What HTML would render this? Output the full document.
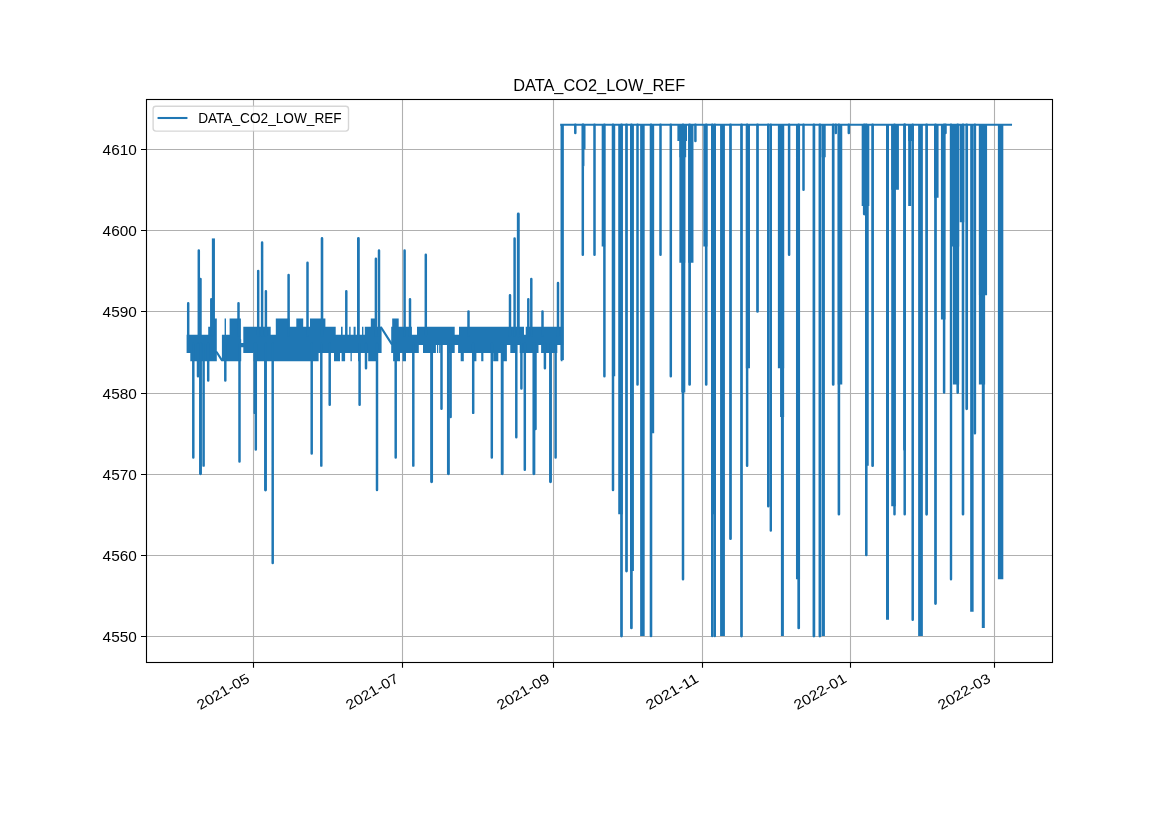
<!DOCTYPE html>
<html><head><meta charset="utf-8"><title>DATA_CO2_LOW_REF</title>
<style>html,body{margin:0;padding:0;background:#fff;}svg{display:block;will-change:transform;}text{font-family:"Liberation Sans",sans-serif;}</style></head>
<body>
<svg width="1169" height="827" viewBox="0 0 1169 827">
<rect width="1169" height="827" fill="#fff"/>
<path d="M253.50 99.5V662.5M402.50 99.5V662.5M553.50 99.5V662.5M702.50 99.5V662.5M850.50 99.5V662.5M994.50 99.5V662.5M146.5 636.50H1052.5M146.5 555.50H1052.5M146.5 474.50H1052.5M146.5 393.50H1052.5M146.5 311.50H1052.5M146.5 230.50H1052.5M146.5 149.50H1052.5" stroke="#b0b0b0" stroke-width="1.11" fill="none"/>
<path d="M186.60 334.75h21.60v5.60h-21.60zM208.20 326.63h2.60v13.71h-2.60zM210.80 318.52h6.00v21.83h-6.00zM221.90 334.75h7.70v5.60h-7.70zM224.60 318.52h1.40v21.83h-1.40zM229.60 318.52h11.30v21.83h-11.30zM243.30 326.63h27.40v13.71h-27.40zM270.70 334.75h5.10v5.60h-5.10zM275.80 318.52h13.70v21.83h-13.70zM289.50 326.63h6.80v13.71h-6.80zM296.30 318.52h6.90v21.83h-6.90zM303.20 326.63h6.80v13.71h-6.80zM310.00 318.52h15.40v21.83h-15.40zM325.40 326.63h10.30v13.71h-10.30zM335.70 334.75h29.10v5.60h-29.10zM341.00 326.63h1.60v13.71h-1.60zM349.20 326.63h1.40v13.71h-1.40zM353.60 326.63h2.00v13.71h-2.00zM362.00 326.63h1.40v13.71h-1.40zM364.80 326.63h6.00v13.71h-6.00zM370.80 318.52h4.30v21.83h-4.30zM375.10 326.63h6.50v13.71h-6.50zM391.20 326.63h1.00v13.71h-1.00zM392.20 318.52h6.50v21.83h-6.50zM398.70 326.63h13.20v13.71h-13.20zM411.90 334.75h5.10v5.60h-5.10zM417.00 326.63h37.70v13.71h-37.70zM454.70 334.75h4.30v5.60h-4.30zM459.00 326.63h65.00v13.71h-65.00zM524.00 334.75h1.70v5.60h-1.70zM525.70 326.63h37.50v13.71h-37.50zM186.60 339.35h3.70v13.71h-3.70zM190.30 339.35h26.50v21.83h-26.50zM221.90 339.35h19.30v21.83h-19.30zM243.30 339.35h10.30v13.71h-10.30zM253.60 339.35h65.00v21.83h-65.00zM318.60 339.35h15.40v13.71h-15.40zM334.00 339.35h6.00v21.83h-6.00zM341.60 339.35h3.50v21.83h-3.50zM340.00 339.35h1.60v13.71h-1.60zM345.10 339.35h23.10v13.71h-23.10zM350.50 339.35h1.30v21.83h-1.30zM358.10 339.35h1.40v21.83h-1.40zM368.20 339.35h9.50v21.83h-9.50zM377.70 339.35h3.90v13.71h-3.90zM391.20 339.35h1.90v13.71h-1.90zM393.10 339.35h6.90v21.83h-6.90zM400.00 339.35h18.80v13.71h-18.80zM402.50 339.35h3.50v21.83h-3.50zM418.80 339.35h4.20v5.60h-4.20zM423.00 339.35h12.90v13.71h-12.90zM435.90 339.35h11.10v5.60h-11.10zM437.00 339.35h1.20v13.71h-1.20zM439.20 339.35h1.20v13.71h-1.20zM447.00 339.35h7.70v13.71h-7.70zM454.70 339.35h3.40v5.60h-3.40zM458.10 339.35h48.80v13.71h-48.80zM460.70 339.35h3.10v21.83h-3.10zM472.30 339.35h4.10v21.83h-4.10zM481.20 339.35h2.20v21.83h-2.20zM493.20 339.35h5.10v21.83h-5.10zM501.70 339.35h5.20v21.83h-5.20zM506.90 339.35h3.40v5.60h-3.40zM510.30 339.35h6.80v13.71h-6.80zM517.10 339.35h2.60v5.60h-2.60zM519.70 339.35h18.80v13.71h-18.80zM538.50 339.35h2.60v5.60h-2.60zM541.10 339.35h16.20v13.71h-16.20zM557.30 339.35h5.90v5.60h-5.90zM560.80 339.35h1.70v21.83h-1.70zM240.40 343.00h3.40v4.30h-3.40z" fill="#1f77b4" fill-rule="nonzero" stroke="none"/>
<path d="M216.60 352.02L221.80 360.13M381.20 327.67L391.60 343.90" stroke="#1f77b4" stroke-width="2.08" stroke-linecap="round" fill="none"/>
<path d="M712.20 124.80L712.20 636.04M714.80 124.80L714.80 636.04M768.20 124.80L768.20 506.20M770.80 124.80L770.80 530.54M951.00 124.80L951.00 579.23" stroke="#1f77b4" stroke-width="2.4" stroke-linecap="round" fill="none"/>
<path d="M188.20 335.79L188.20 303.33M198.80 335.79L198.80 250.58M200.50 335.79L200.50 278.98M211.30 335.79L211.30 299.27M238.50 335.79L238.50 303.33M258.20 335.79L258.20 270.87M262.10 335.79L262.10 242.47M265.90 335.79L265.90 291.16M288.60 335.79L288.60 274.93M307.50 335.79L307.50 262.75M346.30 335.79L346.30 291.16M375.90 335.79L375.90 258.70M379.00 335.79L379.00 250.58M404.60 335.79L404.60 250.58M410.00 335.79L410.00 299.27M425.80 335.79L425.80 254.64M468.50 335.79L468.50 311.44M510.00 335.79L510.00 295.21M514.60 335.79L514.60 238.41M528.30 335.79L528.30 299.27M531.30 335.79L531.30 278.98M542.50 335.79L542.50 311.44M558.00 335.79L558.00 283.04M193.30 343.90L193.30 457.51M198.00 343.90L198.00 376.36M203.60 343.90L203.60 465.63M208.20 343.90L208.20 380.42M225.30 343.90L225.30 380.42M239.50 343.90L239.50 461.57M255.80 343.90L255.80 449.40M254.70 343.90L254.70 412.88M272.70 343.90L272.70 563.00M311.70 343.90L311.70 453.45M321.30 343.90L321.30 465.63M329.70 343.90L329.70 404.76M359.60 343.90L359.60 404.76M366.00 343.90L366.00 368.25M377.00 343.90L377.00 489.97M395.70 343.90L395.70 457.51M413.30 343.90L413.30 465.63M441.50 343.90L441.50 408.82M450.60 343.90L450.60 416.94M473.20 343.90L473.20 412.88M491.80 343.90L491.80 457.51M516.30 343.90L516.30 437.22M521.40 343.90L521.40 388.53M524.80 343.90L524.80 469.68M535.50 343.90L535.50 429.11M544.90 343.90L544.90 368.25M555.60 343.90L555.60 457.51" stroke="#1f77b4" stroke-width="2.48" stroke-linecap="round" fill="none"/>
<path d="M575.30 124.80L575.30 132.92M583.20 124.80L583.20 165.38M582.80 124.80L582.80 254.64M594.50 124.80L594.50 254.64M604.40 124.80L604.40 376.36M613.00 124.80L613.00 489.97M637.50 124.80L637.50 384.48M660.50 124.80L660.50 254.64M670.80 124.80L670.80 376.36M683.00 124.80L683.00 579.23M695.40 124.80L695.40 141.03M747.10 124.80L747.10 465.63M789.10 124.80L789.10 254.64M803.50 124.80L803.50 189.72M835.80 124.80L835.80 132.92M848.80 124.80L848.80 132.92M894.50 124.80L894.50 514.32M904.70 124.80L904.70 514.32M912.70 124.80L912.70 619.81M945.50 124.80L945.50 132.92M944.10 124.80L944.10 392.59M974.90 124.80L974.90 433.17" stroke="#1f77b4" stroke-width="2.5" stroke-linecap="round" fill="none"/>
<path d="M322.00 335.79L322.00 238.41M651.00 124.80L651.00 636.04M706.20 124.80L706.20 384.48M838.90 124.80L838.90 514.32M866.30 124.80L866.30 554.89M957.70 124.80L957.70 392.59M963.00 124.80L963.00 514.32" stroke="#1f77b4" stroke-width="2.6" stroke-linecap="round" fill="none"/>
<path d="M621.50 124.80L621.50 636.04M626.50 124.80L626.50 571.12M631.40 124.80L631.40 627.92M689.60 124.80L689.60 384.48M730.50 124.80L730.50 538.66M741.50 124.80L741.50 636.04M757.50 124.80L757.50 311.44M798.70 124.80L798.70 627.92M813.90 124.80L813.90 636.04M819.90 124.80L819.90 636.04M833.20 124.80L833.20 384.48M872.60 124.80L872.60 465.63M926.60 124.80L926.60 514.32M935.50 124.80L935.50 603.58M966.70 124.80L966.70 408.82" stroke="#1f77b4" stroke-width="2.7" stroke-linecap="round" fill="none"/>
<path d="M358.40 335.79L358.40 238.41M864.30 124.80L864.30 214.07M904.60 124.80L904.60 449.40" stroke="#1f77b4" stroke-width="2.8" stroke-linecap="round" fill="none"/>
<path d="M518.30 335.79L518.30 214.07M200.50 343.90L200.50 473.74M265.50 343.90L265.50 489.97M431.60 343.90L431.60 481.86M448.40 343.90L448.40 473.74M502.20 343.90L502.20 473.74M533.90 343.90L533.90 473.74M550.50 343.90L550.50 481.86" stroke="#1f77b4" stroke-width="2.9" stroke-linecap="round" fill="none"/>
<path d="M782.40 124.80L782.40 636.04M887.50 124.80L887.50 619.81M909.70 124.80L909.70 205.95M983.30 124.80L983.30 627.92" stroke="#1f77b4" stroke-width="3.0" stroke-linecap="butt" fill="none"/>
<path d="M213.40 335.79L213.40 238.41" stroke="#1f77b4" stroke-width="3.1" stroke-linecap="butt" fill="none"/>
<path d="M613.60 124.80L613.60 376.36M823.30 124.80L823.30 636.04" stroke="#1f77b4" stroke-width="3.25" stroke-linecap="butt" fill="none"/>
<path d="M562.20 124.80L562.20 360.13" stroke="#1f77b4" stroke-width="3.35" stroke-linecap="butt" fill="none"/>
<path d="M603.40 124.80L603.40 246.52M971.90 124.80L971.90 611.69" stroke="#1f77b4" stroke-width="3.45" stroke-linecap="butt" fill="none"/>
<path d="M583.70 124.80L583.70 149.15M632.10 124.80L632.10 571.12M866.90 124.80L866.90 465.63" stroke="#1f77b4" stroke-width="3.65" stroke-linecap="butt" fill="none"/>
<path d="M683.30 124.80L683.30 392.59M782.10 124.80L782.10 416.94M798.00 124.80L798.00 579.23M823.70 124.80L823.70 157.26" stroke="#1f77b4" stroke-width="4.05" stroke-linecap="butt" fill="none"/>
<path d="M652.10 124.80L652.10 433.17M705.40 124.80L705.40 246.52M747.90 124.80L747.90 368.25" stroke="#1f77b4" stroke-width="4.15" stroke-linecap="butt" fill="none"/>
<path d="M620.50 124.80L620.50 514.32M642.40 124.80L642.40 636.04M840.00 124.80L840.00 384.48M893.50 124.80L893.50 506.20M936.30 124.80L936.30 197.84M943.20 124.80L943.20 319.56M962.00 124.80L962.00 222.18" stroke="#1f77b4" stroke-width="4.55" stroke-linecap="butt" fill="none"/>
<path d="M713.40 124.80L713.40 514.32" stroke="#1f77b4" stroke-width="4.65" stroke-linecap="butt" fill="none"/>
<path d="M920.50 124.80L920.50 636.04" stroke="#1f77b4" stroke-width="4.75" stroke-linecap="butt" fill="none"/>
<path d="M722.50 124.80L722.50 636.04" stroke="#1f77b4" stroke-width="4.85" stroke-linecap="butt" fill="none"/>
<path d="M690.80 124.80L690.80 262.75" stroke="#1f77b4" stroke-width="5.35" stroke-linecap="butt" fill="none"/>
<path d="M1000.60 124.80L1000.60 579.23" stroke="#1f77b4" stroke-width="5.45" stroke-linecap="butt" fill="none"/>
<path d="M911.00 124.80L911.00 141.03" stroke="#1f77b4" stroke-width="5.65" stroke-linecap="butt" fill="none"/>
<path d="M682.30 124.80L682.30 262.75" stroke="#1f77b4" stroke-width="5.85" stroke-linecap="butt" fill="none"/>
<path d="M781.00 124.80L781.00 368.25M956.00 124.80L956.00 384.48M982.00 124.80L982.00 384.48" stroke="#1f77b4" stroke-width="6.25" stroke-linecap="butt" fill="none"/>
<path d="M682.80 124.80L682.80 157.26" stroke="#1f77b4" stroke-width="6.75" stroke-linecap="butt" fill="none"/>
<path d="M865.50 124.80L865.50 205.95M895.10 124.80L895.10 189.72" stroke="#1f77b4" stroke-width="7.65" stroke-linecap="butt" fill="none"/>
<path d="M983.00 124.80L983.00 295.21" stroke="#1f77b4" stroke-width="8.15" stroke-linecap="butt" fill="none"/>
<path d="M954.60 124.80L954.60 246.52" stroke="#1f77b4" stroke-width="9.15" stroke-linecap="butt" fill="none"/>
<path d="M682.20 124.80L682.20 141.03" stroke="#1f77b4" stroke-width="9.65" stroke-linecap="butt" fill="none"/>
<path d="M561.2 124.80H1011.0" stroke="#1f77b4" stroke-width="2.08" stroke-linecap="square" fill="none"/>
<path d="M253.50 662.5V667.7M402.50 662.5V667.7M553.50 662.5V667.7M702.50 662.5V667.7M850.50 662.5V667.7M994.50 662.5V667.7M146.5 636.50H141.0M146.5 555.50H141.0M146.5 474.50H141.0M146.5 393.50H141.0M146.5 311.50H141.0M146.5 230.50H141.0M146.5 149.50H141.0" stroke="#000" stroke-width="1.11" fill="none"/>
<rect x="146.5" y="99.5" width="906" height="563" fill="none" stroke="#000" stroke-width="1.11"/>
<rect x="153.1" y="106.2" width="195.4" height="24.9" rx="2.8" fill="#fff" fill-opacity="0.8" stroke="#ccc" stroke-opacity="0.8" stroke-width="1.39"/>
<path d="M158.6 118H186.4" stroke="#1f77b4" stroke-width="2.08" stroke-linecap="square"/>
<text x="198.2" y="122.9" font-family="Liberation Sans, sans-serif" font-size="14" textLength="143.5" lengthAdjust="spacingAndGlyphs" fill="#000">DATA_CO2_LOW_REF</text>
<text x="513.2" y="90.8" font-family="Liberation Sans, sans-serif" font-size="16.9" textLength="172" lengthAdjust="spacingAndGlyphs" fill="#000">DATA_CO2_LOW_REF</text>
<text x="102.6" y="641.95" font-family="Liberation Sans, sans-serif" font-size="14" textLength="34.2" lengthAdjust="spacingAndGlyphs" fill="#000">4550</text>
<text x="102.6" y="560.95" font-family="Liberation Sans, sans-serif" font-size="14" textLength="34.2" lengthAdjust="spacingAndGlyphs" fill="#000">4560</text>
<text x="102.6" y="479.95" font-family="Liberation Sans, sans-serif" font-size="14" textLength="34.2" lengthAdjust="spacingAndGlyphs" fill="#000">4570</text>
<text x="102.6" y="398.95" font-family="Liberation Sans, sans-serif" font-size="14" textLength="34.2" lengthAdjust="spacingAndGlyphs" fill="#000">4580</text>
<text x="102.6" y="316.95" font-family="Liberation Sans, sans-serif" font-size="14" textLength="34.2" lengthAdjust="spacingAndGlyphs" fill="#000">4590</text>
<text x="102.6" y="235.95" font-family="Liberation Sans, sans-serif" font-size="14" textLength="34.2" lengthAdjust="spacingAndGlyphs" fill="#000">4600</text>
<text x="102.6" y="154.95" font-family="Liberation Sans, sans-serif" font-size="14" textLength="34.2" lengthAdjust="spacingAndGlyphs" fill="#000">4610</text>
<text transform="translate(250.50 681.30) rotate(-30)" x="-58" y="0" font-family="Liberation Sans, sans-serif" font-size="14" textLength="58" lengthAdjust="spacingAndGlyphs" fill="#000">2021-05</text>
<text transform="translate(399.50 681.30) rotate(-30)" x="-58" y="0" font-family="Liberation Sans, sans-serif" font-size="14" textLength="58" lengthAdjust="spacingAndGlyphs" fill="#000">2021-07</text>
<text transform="translate(550.50 681.30) rotate(-30)" x="-58" y="0" font-family="Liberation Sans, sans-serif" font-size="14" textLength="58" lengthAdjust="spacingAndGlyphs" fill="#000">2021-09</text>
<text transform="translate(699.50 681.30) rotate(-30)" x="-58" y="0" font-family="Liberation Sans, sans-serif" font-size="14" textLength="58" lengthAdjust="spacingAndGlyphs" fill="#000">2021-11</text>
<text transform="translate(847.50 681.30) rotate(-30)" x="-58" y="0" font-family="Liberation Sans, sans-serif" font-size="14" textLength="58" lengthAdjust="spacingAndGlyphs" fill="#000">2022-01</text>
<text transform="translate(991.50 681.30) rotate(-30)" x="-58" y="0" font-family="Liberation Sans, sans-serif" font-size="14" textLength="58" lengthAdjust="spacingAndGlyphs" fill="#000">2022-03</text>
</svg>
</body></html>
